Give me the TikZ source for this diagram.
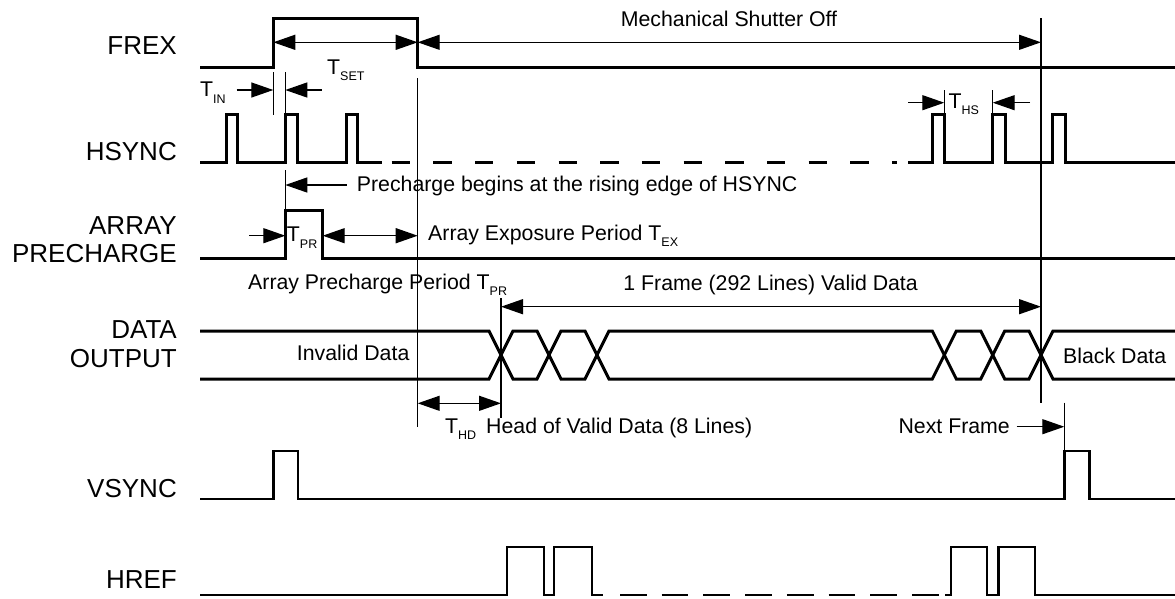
\documentclass[tikz,border=0pt]{standalone}
\usepackage{fontspec}
\setmainfont{Liberation Sans}
\usetikzlibrary{arrows.meta}
\newcommand{\Tsb}[1]{T\raisebox{-6.5pt}{\fontsize{12.5}{12.5}\selectfont #1}}
\begin{document}
\begin{tikzpicture}[x=1pt,y=-1pt,
  sig/.style={line width=3pt},
  sigthin/.style={line width=2.4pt},
  guide/.style={line width=1.3pt},
  dimone/.style={line width=1.3pt, -{Triangle[length=22pt,width=15pt]}},
  dimboth/.style={line width=1.3pt, {Triangle[length=22pt,width=15pt]}-{Triangle[length=22pt,width=15pt]}},
  lbl/.style={font=\fontsize{26}{30}\selectfont, inner sep=0pt, anchor=base east},
  ann/.style={font=\fontsize{21.3}{25}\selectfont, inner sep=0pt},
]
\useasboundingbox (0,0) rectangle (1175,598);

% ---- signal names
\node[lbl] (lfrex)  at (177,54)  {FREX};
\node[lbl] (lhsync) at (177,160) {HSYNC};
\node[lbl] (larray) at (177,234) {ARRAY};
\node[lbl] (lpre)   at (177,262) {PRECHARGE};
\node[lbl] (ldata)  at (177,338) {DATA};
\node[lbl] (lout)   at (177,367) {OUTPUT};
\node[lbl] (lvs)    at (177,497) {VSYNC};
\node[lbl] (lhref)  at (177,588) {HREF};

% ---- FREX
\draw[sig] (200,67) -- (273.3,67) -- (273.3,18.3) -- (417.7,18.3) -- (417.7,67) -- (1175,67);

% ---- HSYNC
\draw[sig] (200,162.3) -- (226.7,162.3) -- (226.7,114.3) -- (237.3,114.3) -- (237.3,162.3)
  -- (285.3,162.3) -- (285.3,114.3) -- (297.3,114.3) -- (297.3,162.3)
  -- (346.7,162.3) -- (346.7,114.3) -- (357.7,114.3) -- (357.7,162.3) -- (381.7,162.3);
\draw[sig, dash pattern=on 18.3pt off 23.4pt] (391.7,162.3) -- (897,162.3);
\draw[sig] (908.3,162.3) -- (932,162.3) -- (932,114.3) -- (944.3,114.3) -- (944.3,162.3)
  -- (992.7,162.3) -- (992.7,114.3) -- (1005,114.3) -- (1005,162.3)
  -- (1052,162.3) -- (1052,114.3) -- (1065,114.3) -- (1065,162.3) -- (1175,162.3);

% ---- ARRAY PRECHARGE
\draw[sig] (200,258.3) -- (285.3,258.3) -- (285.3,210) -- (322.7,210) -- (322.7,258.3) -- (1175,258.3);

% ---- DATA OUTPUT bus
\draw[sig] (200,331) -- (489,331) -- (513,379) -- (537,379) -- (561,331) -- (585,331) -- (609,379)
  -- (932.3,379) -- (956.3,331) -- (980.7,331) -- (1004.7,379) -- (1029,379) -- (1053,331) -- (1175,331);
\draw[sig] (200,379) -- (489,379) -- (513,331) -- (537,331) -- (561,379) -- (585,379) -- (609,331)
  -- (932.3,331) -- (956.3,379) -- (980.7,379) -- (1004.7,331) -- (1029,331) -- (1053,379) -- (1175,379);

% ---- VSYNC
\draw[sigthin] (200,499) -- (273.3,499) -- (273.3,450.7) -- (297.7,450.7) -- (297.7,499)
  -- (1064.3,499) -- (1064.3,450.7) -- (1089.3,450.7) -- (1089.3,499) -- (1175,499);

% ---- HREF
\draw[sigthin] (200,595) -- (506.7,595) -- (506.7,546.7) -- (544,546.7) -- (544,595) -- (554,595)
  -- (554,546.7) -- (591.7,546.7) -- (591.7,595) -- (603.3,595);
\draw[sigthin, dash pattern=on 26.7pt off 15pt] (620,595) -- (945,595);
\draw[sigthin] (945,595) -- (950.7,595) -- (950.7,546.7) -- (986.7,546.7) -- (986.7,595) -- (998.3,595)
  -- (998.3,546.7) -- (1035,546.7) -- (1035,595) -- (1175,595);

% ---- guide lines
\coordinate (gin1a) at (273.3,72);   \coordinate (gin1b) at (273.3,115);
\coordinate (gin2a) at (285.3,72);   \coordinate (gin2b) at (285.3,115);
\coordinate (gpra)  at (285.3,170);  \coordinate (gprb)  at (285.3,210);
\coordinate (gfa)   at (417.7,78);   \coordinate (gfb)   at (417.7,426.7);
\coordinate (gva)   at (501,298);    \coordinate (gvb)   at (501,418);
\coordinate (gea)   at (1041,18);    \coordinate (geb)   at (1041,402.7);
\coordinate (gna)   at (1064.3,402.7); \coordinate (gnb) at (1064.3,450.7);
\coordinate (gh1a)  at (944.3,90);   \coordinate (gh1b)  at (944.3,114);
\coordinate (gh2a)  at (992.7,90);   \coordinate (gh2b)  at (992.7,114);
\draw[guide] (gin1a) -- (gin1b);
\draw[guide] (gin2a) -- (gin2b);
\draw[guide] (gpra) -- (gprb);
\draw[guide] (gfa) -- (gfb);
\draw[guide] (gva) -- (gvb);
\draw[guide] (gea) -- (geb);
\draw[guide] (gna) -- (gnb);
\draw[guide] (gh1a) -- (gh1b);
\draw[guide] (gh2a) -- (gh2b);

% ---- dimension arrows
\coordinate (f1) at (273.3,42.3); \coordinate (f2) at (417.7,42.3); \coordinate (f3) at (1041,42.3);
\draw[dimboth] (f1) -- (f2);
\draw[dimboth] (f2) -- (f3);
\coordinate (ti1) at (236.7,90); \coordinate (ti2) at (273.3,90);
\coordinate (ti3) at (321.7,90); \coordinate (ti4) at (285.3,90);
\draw[dimone] (ti1) -- (ti2);
\draw[dimone] (ti3) -- (ti4);
\coordinate (th1) at (908,102.7); \coordinate (th2) at (944.3,102.7);
\coordinate (th3) at (1030,102.7); \coordinate (th4) at (992.7,102.7);
\draw[dimone] (th1) -- (th2);
\draw[dimone] (th3) -- (th4);
\coordinate (pb1) at (346.7,185); \coordinate (pb2) at (285.3,185);
\draw[dimone] (pb1) -- (pb2);
\coordinate (tp1) at (249,235.7); \coordinate (tp2) at (285.3,235.7);
\draw[dimone] (tp1) -- (tp2);
\coordinate (ex1) at (322.7,235.7); \coordinate (ex2) at (417.7,235.7);
\draw[dimboth] (ex1) -- (ex2);
\coordinate (fr1) at (501,306.7); \coordinate (fr2) at (1041,306.7);
\draw[dimboth] (fr1) -- (fr2);
\coordinate (hd1) at (417.7,403.3); \coordinate (hd2) at (501,403.3);
\draw[dimboth] (hd1) -- (hd2);
\coordinate (nf1) at (1016.7,426.7); \coordinate (nf2) at (1064.3,426.7);
\draw[dimone] (nf1) -- (nf2);

% ---- annotations
\node[ann, anchor=base west] (tmso) at (620.7,26) {Mechanical Shutter Off};
\node[ann, anchor=base west] (tset) at (327,74) {\Tsb{SET}};
\node[ann, anchor=base west] (tin)  at (200,96.7) {\Tsb{IN}};
\node[ann, anchor=base west] (ths)  at (948.3,108.3) {\Tsb{HS}};
\node[ann, anchor=base west] (tpb)  at (356.7,191.7) {Precharge begins at the rising edge of HSYNC};
\node[ann, anchor=base west] (tpr)  at (286.7,241.7) {\Tsb{PR}};
\node[ann, anchor=base west] (tex)  at (428,240) {Array Exposure Period \Tsb{EX}};
\node[ann, anchor=base west] (tapp) at (248,289.3) {Array Precharge Period \Tsb{PR}};
\node[ann, anchor=base east] (tfr)  at (918,290) {1 Frame (292 Lines) Valid Data};
\node[ann, anchor=base west] (tinv) at (296.7,360) {Invalid Data};
\node[ann, anchor=base west] (tblk) at (1063,363.3) {Black Data};
\node[ann, anchor=base west] (thd)  at (445,433.3) {\Tsb{HD}};
\node[ann, anchor=base west] (thv)  at (486,433.3) {Head of Valid Data (8 Lines)};
\node[ann, anchor=base east] (tnf)  at (1010,433.3) {Next Frame};
\end{tikzpicture}
\end{document}
